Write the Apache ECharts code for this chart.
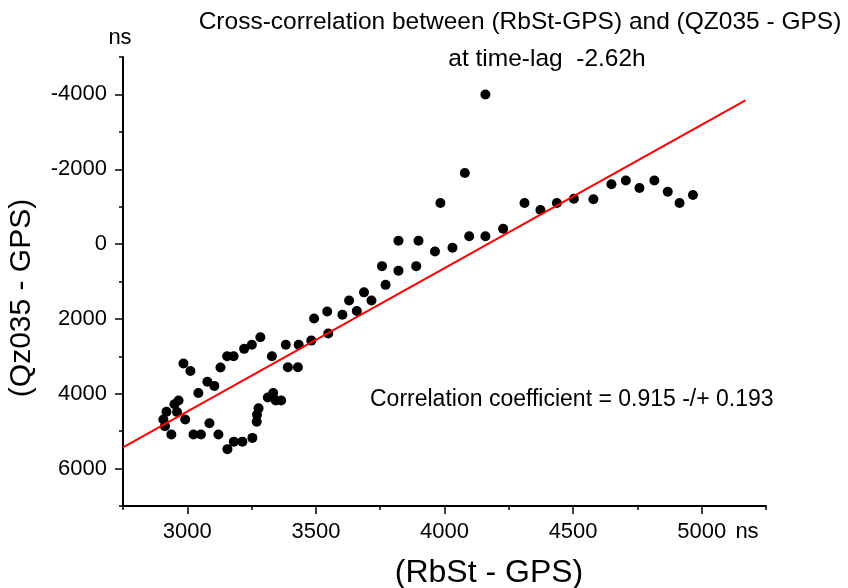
<!DOCTYPE html>
<html>
<head>
<meta charset="utf-8">
<script src="https://cdn.jsdelivr.net/npm/echarts@6/dist/echarts.min.js"></script>
<style>
  * { margin: 0; padding: 0; }
  #chart { width: 848px; height: 588px; background: #fff; }
</style>
</head>
<body>
<div id="chart"></div>
<script>
// (RbSt - GPS) in ns
var rbst = [2907, 2913, 2919, 2938, 2950, 2966, 2960, 2992, 2985, 3012,
            3043, 3078, 3105, 3086, 3024, 3053, 3121, 3156, 3181, 3214,
            3253, 3270, 3271, 3277, 3313, 3334, 3344, 3365, 3129, 3155,
            3180, 3221, 3251, 3284, 3329, 3383, 3433, 3391, 3430, 3482,
            3493, 3544, 3548, 3603, 3629, 3659, 3687, 3716, 3757, 3771,
            3821, 3821, 3890, 3899, 3963, 3984, 4031, 4079, 4096, 4159,
            4159, 4228, 4311, 4373, 4437, 4503, 4579, 4649, 4705, 4758,
            4816, 4868, 4914, 4966];
// (Qz035 - GPS) in ns
var qz = [4690, 4870, 4480, 5090, 4280, 4180, 4490, 4690, 3190, 3390,
          3980, 3680, 3790, 4790, 5090, 5090, 5090, 5480, 5280, 5280,
          5180, 4750, 4560, 4390, 4100, 3980, 4180, 4180, 3300, 3000,
          3000, 2800, 2690, 2490, 3000, 2690, 2690, 3290, 3290, 2580,
          1990, 1800, 2390, 1890, 1510, 1790, 1290, 1510, 590, 1090,
          -90, 710, 590, -90, 200, -1100, 100, -1900, -210, -210,
          -4000, -410, -1100, -910, -1100, -1210, -1200, -1600, -1700, -1500,
          -1700, -1400, -1100, -1310];
// linear fit end points [x, y]
var fitLine = [[2750, 5430], [5170, -3840]];

var xMajor = [3000, 3500, 4000, 4500, 5000];
var xMinor = [2750, 3250, 3750, 4250, 4750, 5250];
var yMajor = [-4000, -2000, 0, 2000, 4000, 6000];
var yMinor = [-5000, -3000, -1000, 1000, 3000, 5000, 7000];

var points = [];
for (var i = 0; i < rbst.length; i++) points.push([rbst[i], qz[i]]);

var font = '"Liberation Sans", Arial, sans-serif';
var plain = function (v) { return String(v); };
var chart = echarts.init(document.getElementById('chart'));

chart.setOption({
  backgroundColor: '#fff',
  animation: false,
  grid: { left: 123, top: 57, width: 643, height: 449 },
  xAxis: [{
    type: 'value', min: 2750, max: 5250, position: 'bottom',
    axisLine: { onZero: false, lineStyle: { color: '#000', width: 2 } },
    axisTick: { customValues: xMajor, length: 8, lineStyle: { color: '#000', width: 1.5 } },
    axisLabel: { customValues: xMajor, formatter: plain, color: '#000', fontSize: 22, fontFamily: font, margin: 15 },
    splitLine: { show: false }
  }, {
    type: 'value', min: 2750, max: 5250, position: 'bottom',
    axisLine: { show: false, onZero: false },
    axisTick: { customValues: xMinor, length: 4, lineStyle: { color: '#000', width: 1.5 } },
    axisLabel: { show: false },
    splitLine: { show: false }
  }],
  yAxis: [{
    type: 'value', min: -5000, max: 7000, inverse: true, position: 'left',
    axisLine: { show: true, onZero: false, lineStyle: { color: '#000', width: 2 } },
    axisTick: { show: true, customValues: yMajor, length: 8, lineStyle: { color: '#000', width: 1.5 } },
    axisLabel: { customValues: yMajor, formatter: plain, color: '#000', fontSize: 22, fontFamily: font, margin: 16 },
    splitLine: { show: false }
  }, {
    type: 'value', min: -5000, max: 7000, inverse: true, position: 'left',
    axisLine: { show: false, onZero: false },
    axisTick: { show: true, customValues: yMinor, length: 4, lineStyle: { color: '#000', width: 1.5 } },
    axisLabel: { show: false },
    splitLine: { show: false }
  }],
  series: [{
    type: 'scatter',
    data: points,
    symbolSize: 10,
    itemStyle: { color: '#000', opacity: 1 }
  }, {
    type: 'line',
    data: fitLine,
    showSymbol: false,
    symbol: 'none',
    lineStyle: { color: '#ff0000', width: 2 }
  }],
  graphic: [
    { type: 'text', x: 520, y: 22, style: { text: 'Cross-correlation between (RbSt-GPS) and (QZ035 - GPS)', font: '24.5px ' + font, fill: '#000', textAlign: 'center', textVerticalAlign: 'middle' } },
    { type: 'text', x: 547, y: 59, style: { text: 'at time-lag  -2.62h', font: '24.5px ' + font, fill: '#000', textAlign: 'center', textVerticalAlign: 'middle' } },
    { type: 'text', x: 120, y: 38, style: { text: 'ns', font: '22px ' + font, fill: '#000', textAlign: 'center', textVerticalAlign: 'middle' } },
    { type: 'text', x: 747, y: 532, style: { text: 'ns', font: '22px ' + font, fill: '#000', textAlign: 'center', textVerticalAlign: 'middle' } },
    { type: 'text', x: 370, y: 400, style: { text: 'Correlation coefficient = 0.915 -/+ 0.193', font: '23px ' + font, fill: '#000', textAlign: 'left', textVerticalAlign: 'middle' } },
    { type: 'text', x: 489, y: 573, style: { text: '(RbSt - GPS)', font: '32px ' + font, fill: '#000', textAlign: 'center', textVerticalAlign: 'middle' } },
    { type: 'text', x: 22, y: 298, rotation: Math.PI / 2, style: { text: '(Qz035 - GPS)', font: '30px ' + font, fill: '#000', textAlign: 'center', textVerticalAlign: 'middle' } }
  ]
});
</script>
</body>
</html>
